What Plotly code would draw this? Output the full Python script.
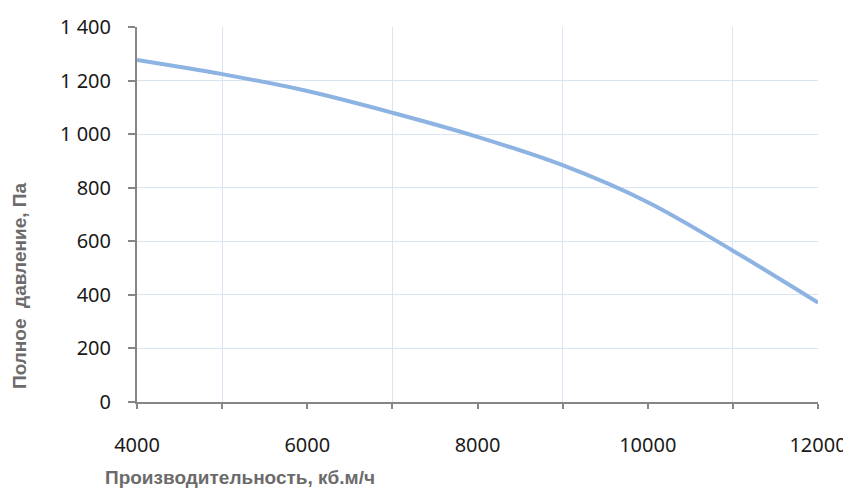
import plotly.graph_objects as go

# Fan curve: airflow (m3/h) vs total pressure (Pa)
FLOW = [4000, 5000, 6000, 7000, 8000, 9000, 10000, 11000, 12000]
PRESSURE = [1277, 1224, 1161, 1080, 990, 884, 746, 565, 371]

Y_TICKS = [0, 200, 400, 600, 800, 1000, 1200, 1400]
Y_LABELS = ["0", "200", "400", "600", "800", "1 000", "1 200", "1 400"]

LINE = "#8db3e2"
GRID = "#dae4f2"
AXIS = "#868686"
TITLE = "#6b6b6b"

# the page body has an 8px margin, so the figure is drawn 8px in from the corner
OFF = 8
W, H = 851 - OFF, 498 - OFF
L, R, T, B = 137 - OFF, 33, 27 - OFF, 96

fig = go.Figure(go.Scatter(
    x=FLOW, y=PRESSURE, mode="lines",
    line={"color": LINE, "width": 4, "shape": "spline", "smoothing": 1},
    hoverinfo="x+y",
))

fig.update_layout(
    width=W, height=H,
    paper_bgcolor="white", plot_bgcolor="white",
    margin={"l": L, "r": R, "t": T, "b": B},
    showlegend=False,
    font={"family": "Noto Sans, Open Sans, sans-serif", "size": 20, "color": "#1a1a1a"},
    xaxis={
        "range": [4000, 12000], "dtick": 2000, "tick0": 4000, "automargin": False,
        "tickformat": "d", "showgrid": False,
        "showline": True, "linecolor": AXIS, "linewidth": 2,
        "ticks": "outside", "ticklen": 5, "tickcolor": AXIS, "tickwidth": 1.5,
        "ticklabelstandoff": 19,
        "minor": {"dtick": 1000, "tick0": 4000, "showgrid": True, "gridcolor": GRID,
                  "gridwidth": 1, "ticks": "outside", "ticklen": 5,
                  "tickcolor": AXIS, "tickwidth": 1.5},
        "zeroline": False,
    },
    yaxis={
        "range": [0, 1400], "tickvals": Y_TICKS, "ticktext": Y_LABELS, "automargin": False,
        "showgrid": True, "gridcolor": GRID, "gridwidth": 1,
        "showline": True, "linecolor": AXIS, "linewidth": 2,
        "ticks": "outside", "ticklen": 7, "tickcolor": AXIS, "tickwidth": 1.5,
        "ticklabelstandoff": 13, "zeroline": False,
    },
)

# axis titles placed by their pixel centre on the page, converted to paper fractions
pw, ph = W - L - R, H - T - B


def px_x(x):
    return (x - OFF - L) / pw


def px_y(y):
    return (H - B - (y - OFF)) / ph


fig.add_annotation(
    text="<b>Производительность, кб.м/ч</b>",
    x=px_x(240), y=px_y(477), xref="paper", yref="paper", showarrow=False,
    xanchor="center", yanchor="middle",
    font={"family": "Liberation Sans, Arial, sans-serif", "size": 19, "color": TITLE},
)
fig.add_annotation(
    text="<b>Полное  давление, Па</b>",
    x=px_x(19), y=px_y(286), xref="paper", yref="paper", showarrow=False,
    xanchor="center", yanchor="middle", textangle=-90,
    font={"family": "Liberation Sans, Arial, sans-serif", "size": 19, "color": TITLE},
)

fig.write_html("out.html")
